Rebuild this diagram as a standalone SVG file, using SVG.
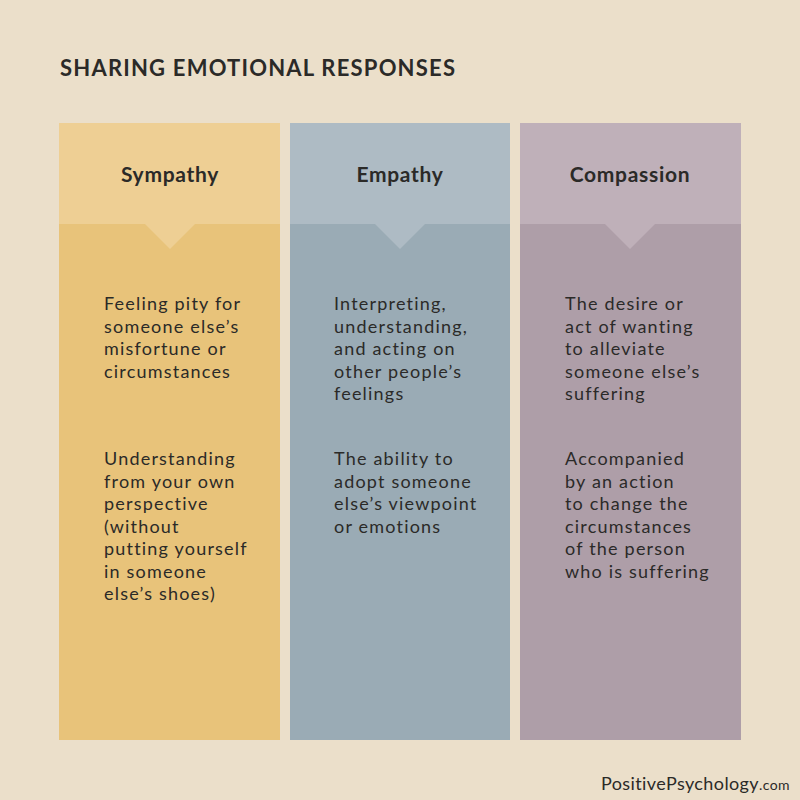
<svg xmlns="http://www.w3.org/2000/svg" width="800" height="800" viewBox="0 0 800 800">
<style>
text{font-family:Lato,"Open Sans",sans-serif;fill:#2b2a28}
.t{font-size:22px;font-weight:bold;letter-spacing:1.2px}
.h{font-size:21px;font-weight:bold;text-anchor:middle;letter-spacing:0.7px}
.b{font-size:18px;letter-spacing:1.2px}
</style>
<rect width="800" height="800" fill="#ebdfca"/>
<text class="t" x="60" y="76">SHARING EMOTIONAL RESPONSES</text>
<g id="sympathy">
<rect x="59" y="123" width="221" height="617" fill="#e8c37a"/>
<rect x="59" y="123" width="221" height="101" fill="#eecf94"/>
<polygon points="144,223 196,223 170,249" fill="#eecf94"/>
<text class="h" x="170" y="182">Sympathy</text>
<text class="b"><tspan x="104" y="310">Feeling pity for</tspan><tspan x="104" dy="22.5">someone else’s</tspan><tspan x="104" dy="22.5">misfortune or</tspan><tspan x="104" dy="22.5">circumstances</tspan></text>
<text class="b"><tspan x="104" y="465">Understanding</tspan><tspan x="104" dy="22.5">from your own</tspan><tspan x="104" dy="22.5">perspective</tspan><tspan x="104" dy="22.5">(without</tspan><tspan x="104" dy="22.5">putting yourself</tspan><tspan x="104" dy="22.5">in someone</tspan><tspan x="104" dy="22.5">else’s shoes)</tspan></text>
</g>
<g id="empathy">
<rect x="290" y="123" width="220" height="617" fill="#9aabb5"/>
<rect x="290" y="123" width="220" height="101" fill="#aebbc4"/>
<polygon points="374,223 426,223 400,249" fill="#aebbc4"/>
<text class="h" x="400" y="182">Empathy</text>
<text class="b"><tspan x="334" y="310">Interpreting,</tspan><tspan x="334" dy="22.5">understanding,</tspan><tspan x="334" dy="22.5">and acting on</tspan><tspan x="334" dy="22.5">other people’s</tspan><tspan x="334" dy="22.5">feelings</tspan></text>
<text class="b"><tspan x="334" y="465">The ability to</tspan><tspan x="334" dy="22.5">adopt someone</tspan><tspan x="334" dy="22.5">else’s viewpoint</tspan><tspan x="334" dy="22.5">or emotions</tspan></text>
</g>
<g id="compassion">
<rect x="520" y="123" width="221" height="617" fill="#ae9ea8"/>
<rect x="520" y="123" width="221" height="101" fill="#bfb0b9"/>
<polygon points="604,223 656,223 630,249" fill="#bfb0b9"/>
<text class="h" x="630" y="182">Compassion</text>
<text class="b"><tspan x="565" y="310">The desire or</tspan><tspan x="565" dy="22.5">act of wanting</tspan><tspan x="565" dy="22.5">to alleviate</tspan><tspan x="565" dy="22.5">someone else’s</tspan><tspan x="565" dy="22.5">suffering</tspan></text>
<text class="b"><tspan x="565" y="465">Accompanied</tspan><tspan x="565" dy="22.5">by an action</tspan><tspan x="565" dy="22.5">to change the</tspan><tspan x="565" dy="22.5">circumstances</tspan><tspan x="565" dy="22.5">of the person</tspan><tspan x="565" dy="22.5">who is suffering</tspan></text>
</g>
<g id="connectors"/>
<text x="601" y="790" style="font-size:18px;letter-spacing:0.4px">PositivePsychology<tspan style="font-size:14px">.com</tspan></text>
</svg>
